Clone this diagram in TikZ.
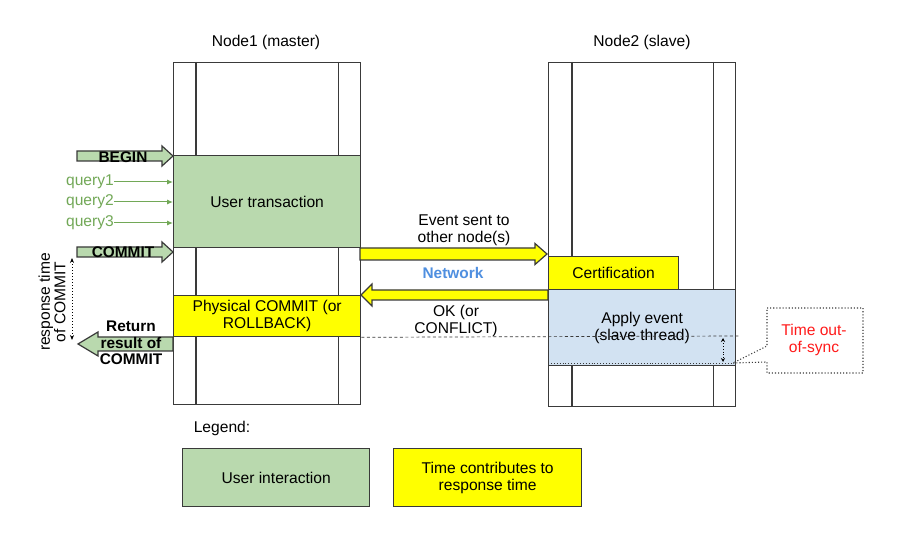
\documentclass[tikz,border=0pt]{standalone}
\usepackage{fontspec}
\setmainfont{Liberation Sans}
\usetikzlibrary{calc,arrows.meta}
\definecolor{linec}{HTML}{3A3A3A}
\definecolor{ugreen}{HTML}{B9D9AE}
\definecolor{qgreen}{HTML}{72A857}
\definecolor{ublue}{HTML}{D2E2F2}
\definecolor{netblue}{HTML}{4F8FE0}
\definecolor{tyellow}{HTML}{FFFF00}
\definecolor{tred}{HTML}{FF1A1A}
% right-pointing fat arrow: style, from, tip, body half, head half, head length
\newcommand{\rfat}[6]{\draw[#1] ($(#2)+(0,#4)$) -- ($(#3)+(-#6,#4)$) -- ($(#3)+(-#6,#5)$) -- (#3) -- ($(#3)+(-#6,-#5)$) -- ($(#3)+(-#6,-#4)$) -- ($(#2)+(0,-#4)$) -- cycle;}
% left-pointing fat arrow
\newcommand{\lfat}[6]{\draw[#1] ($(#2)+(0,#4)$) -- ($(#3)+(#6,#4)$) -- ($(#3)+(#6,#5)$) -- (#3) -- ($(#3)+(#6,-#5)$) -- ($(#3)+(#6,-#4)$) -- ($(#2)+(0,-#4)$) -- cycle;}
\begin{document}
\begin{tikzpicture}[x=1pt,y=-1pt,
  every node/.style={font=\fontsize{15.6}{17}\selectfont, inner sep=0pt},
  lane/.style={draw=linec, line width=1.3pt, fill=white, anchor=north west},
  box/.style={draw=linec, line width=1.3pt, anchor=north west, align=center},
  lbl/.style={align=center},
  greenarrow/.style={draw=linec, line width=1.2pt, fill=ugreen},
  yelarrow/.style={draw=linec, line width=1.2pt, fill=tyellow},
  qarrow/.style={draw=qgreen, line width=1pt, -{Latex[length=6pt,width=5pt]}},
  qtext/.style={text=qgreen, anchor=east},
  boldlbl/.style={font=\fontsize{15.4}{16.5}\selectfont\bfseries, align=center},
  innerline/.style={draw=linec, line width=1.3pt}
]
\useasboundingbox (0,0) rectangle (898,534);
\fill[white] (0,0) rectangle (898,534);

% lanes
\node[lane, minimum width=187pt, minimum height=342pt] (n1) at (173,62) {};
\node[lane, minimum width=187pt, minimum height=344pt] (n2) at (548,62) {};
\draw[innerline] ($(n1.north west)+(23,0)$) -- ($(n1.south west)+(23,0)$);
\draw[innerline] ($(n1.north east)+(-23,0)$) -- ($(n1.south east)+(-23,0)$);
\draw[innerline] ($(n2.north west)+(24,0)$) -- ($(n2.south west)+(24,0)$);
\draw[innerline] ($(n2.north east)+(-23,0)$) -- ($(n2.south east)+(-23,0)$);
\node[lbl] (l1) at (266,42) {Node1 (master)};
\node[lbl] (l2) at (642,42) {Node2 (slave)};

% boxes
\node[box, fill=ugreen, minimum width=187pt, minimum height=92pt] (ut) at (173,155) {User transaction};
\node[box, fill=tyellow, minimum width=187pt, minimum height=41pt] (pc) at (173,295) {Physical COMMIT (or\\ROLLBACK)};
\node[box, fill=tyellow, minimum width=130pt, minimum height=33pt] (cert) at (548,256) {Certification};
\node[box, fill=ublue, minimum width=187pt, minimum height=76pt] (apply) at (548,289) {Apply event\\(slave thread)};

% left side arrows
\coordinate (b0) at (77,156);
\coordinate (b1) at (173,156);
\rfat{greenarrow}{b0}{b1}{5}{10}{11}
\node[boldlbl] (begin) at (123,157) {BEGIN};
\coordinate (c0) at (77,252);
\coordinate (c1) at (173,252);
\rfat{greenarrow}{c0}{c1}{5}{10}{11}
\node[boldlbl] (commit) at (123,252) {COMMIT};

\node[qtext] (q1) at (114,182) {query1};
\node[qtext] (q2) at (114,202) {query2};
\node[qtext] (q3) at (114,223) {query3};
\draw[qarrow] (q1.east) -- (q1.east -| n1.west);
\draw[qarrow] (q2.east) -- (q2.east -| n1.west);
\draw[qarrow] (q3.east) -- (q3.east -| n1.west);

\coordinate (r0) at (173,344);
\coordinate (r1) at (78,344);
\lfat{greenarrow}{r0}{r1}{7}{12}{20}
\node[boldlbl] (ret) at (131,343) {Return\\result of\\COMMIT};

\coordinate (rt0) at (72,258);
\coordinate (rt1) at (72,340);
\draw[black, line width=1pt, dotted, {Stealth[length=5pt,width=4pt]}-{Stealth[length=5pt,width=4pt]}] (rt0) -- (rt1);
\node[lbl, rotate=90, font=\fontsize{15.6}{13.5}\selectfont] (rtime) at (52,302) {response time\\of COMMIT};

% network arrows
\coordinate (e0) at (360,254);
\coordinate (e1) at (547,254);
\rfat{yelarrow}{e0}{e1}{6}{10.5}{12}
\coordinate (o0) at (548,295);
\coordinate (o1) at (361,295);
\lfat{yelarrow}{o0}{o1}{5}{11}{11}
\node[lbl] (evt) at (464,230) {Event sent to\\other node(s)};
\node[boldlbl, text=netblue] (net) at (453,273) {Network};
\node[lbl] (ok) at (456,321) {OK (or\\CONFLICT)};

% time out-of-sync
\coordinate (d0) at (739,336);
\draw[linec, line width=0.7pt, dashed, dash pattern=on 3pt off 2.5pt] (pc.south east) -- (d0);
\coordinate (s0) at (548,363);
\coordinate (s1) at (733,363);
\draw[linec, line width=0.9pt, dotted] (s0) -- (s1);
\coordinate (t0) at (723,338);
\coordinate (t1) at (723,362);
\draw[black, line width=0.8pt, dotted, {Stealth[length=4pt,width=4pt]}-{Stealth[length=4pt,width=4pt]}] (t0) -- (t1);
\node[lbl, text=tred] (tos) at (814,340) {Time out-\\of-sync};
\draw[linec, line width=1.1pt, dotted] (767,308) -- (863,308) -- (863,373) -- (767,373) -- (767,362) -- (s1) -- (767,346) -- cycle;

% legend
\node[lbl] (leg) at (222,428) {Legend:};
\node[box, fill=ugreen, minimum width=187pt, minimum height=58pt] (lg1) at (182,448) {User interaction};
\node[box, fill=tyellow, minimum width=188pt, minimum height=58pt] (lg2) at (393,448) {Time contributes to\\response time};
\end{tikzpicture}
\end{document}
